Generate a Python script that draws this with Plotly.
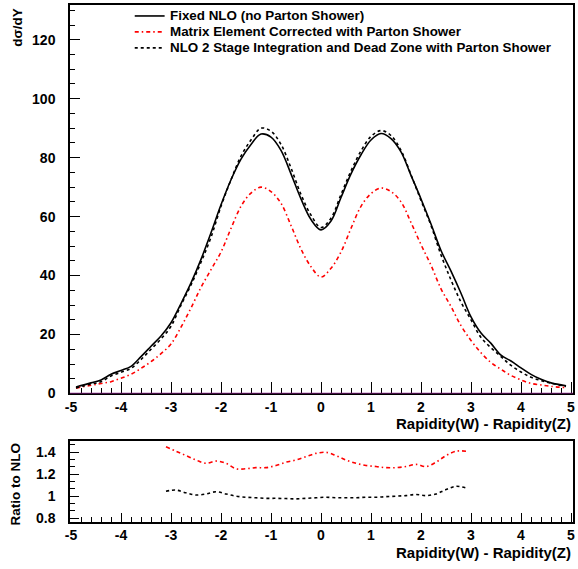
import plotly.graph_objects as go

# ---------------- data ----------------
rap = [-4.9, -4.6, -4.4, -4.2, -4.0, -3.8, -3.6, -3.4, -3.2, -3.0,
       -2.8, -2.6, -2.4, -2.2, -2.0, -1.8, -1.6, -1.4, -1.2, -1.0,
       -0.8, -0.6, -0.4, -0.2, 0.0, 0.2, 0.4, 0.6, 0.8, 1.0,
       1.2, 1.4, 1.6, 1.8, 2.0, 2.2, 2.4, 2.6, 2.8, 3.0,
       3.2, 3.4, 3.6, 3.8, 4.0, 4.2, 4.4, 4.6, 4.9]

fixed_nlo = [2.2, 3.6, 4.6, 6.5, 7.8, 9.2, 12.5, 16.0, 19.5, 24.0,
             30.5, 37.5, 45.5, 54.5, 64.0, 72.5, 79.5, 84.5, 88.0, 87.0,
             82.5, 74.5, 66.0, 59.0, 55.5, 58.5, 66.5, 74.5, 81.0, 86.0,
             88.2, 86.5, 82.0, 74.0, 66.0, 57.5, 48.5, 41.5, 34.0, 26.0,
             20.5, 17.0, 13.0, 11.0, 8.7, 6.5, 4.8, 3.6, 2.6]

me_corrected = [1.8, 2.8, 3.4, 4.0, 5.2, 6.5, 8.5, 10.8, 13.5, 16.8,
                22.5, 29.0, 36.0, 42.0, 48.0, 56.0, 63.5, 68.0, 70.0, 68.5,
                64.5, 57.0, 49.0, 43.0, 39.5, 42.5, 48.0, 56.0, 63.5, 67.8,
                69.7, 68.5, 65.0, 58.0, 50.5, 43.5, 35.5, 29.5, 23.0, 18.0,
                13.8, 10.5, 8.2, 6.1, 4.6, 3.4, 2.9, 2.4, 2.0]

nlo_2stage = [1.9, 3.2, 4.0, 5.9, 7.2, 8.5, 11.5, 15.0, 18.5, 22.8,
              30.0, 36.8, 44.5, 53.0, 63.5, 72.5, 80.5, 86.0, 90.0, 89.0,
              84.5, 76.5, 67.5, 60.5, 56.3, 59.5, 67.5, 75.5, 82.3, 87.2,
              89.2, 87.5, 82.5, 74.2, 65.5, 57.0, 47.0, 38.5, 31.0, 25.0,
              19.0, 15.5, 12.5, 9.5, 7.3, 5.5, 4.4, 3.5, 2.4]

ratio_rap = [-3.1, -2.9, -2.7, -2.5, -2.3, -2.1, -1.9, -1.7, -1.5, -1.3,
             -1.1, -0.9, -0.7, -0.5, -0.3, -0.1, 0.1, 0.3, 0.5, 0.7,
             0.9, 1.1, 1.3, 1.5, 1.7, 1.9, 2.1, 2.3, 2.5, 2.7, 2.9]

ratio_me = [1.45, 1.41, 1.37, 1.33, 1.30, 1.32, 1.30, 1.25, 1.25, 1.26,
            1.26, 1.28, 1.31, 1.33, 1.36, 1.39, 1.40, 1.37, 1.33, 1.30,
            1.28, 1.27, 1.26, 1.26, 1.27, 1.29, 1.27, 1.31, 1.37, 1.41, 1.41]

ratio_2stage = [1.045, 1.055, 1.03, 1.01, 1.02, 1.04, 1.02, 1.00, 0.99, 0.985,
                0.98, 0.98, 0.978, 0.975, 0.98, 0.985, 0.99, 0.985, 0.985, 0.985,
                0.99, 0.99, 0.995, 1.0, 1.005, 1.015, 1.005, 1.02, 1.06, 1.09, 1.075]

x_tick_vals = [-5, -4, -3, -2, -1, 0, 1, 2, 3, 4, 5]
x_tick_text = ["-5", "-4", "-3", "-2", "-1", "0", "1", "2", "3", "4", "5"]
y_tick_vals = [0, 20, 40, 60, 80, 100, 120]
r_tick_vals = [0.8, 1.0, 1.2, 1.4]
r_tick_text = ["0.8", "1", "1.2", "1.4"]

legend_names = ["Fixed NLO (no Parton Shower)",
                "Matrix Element Corrected with Parton Shower",
                "NLO 2 Stage Integration and Dead Zone with Parton Shower"]
x_title = "Rapidity(W) - Rapidity(Z)"

# ---------------- styles ----------------
FONT = "Liberation Sans, Arial, Helvetica, sans-serif"
bold = dict(family=FONT, color="black", weight="bold")
RED_DASH = "4px,3px,1.5px,3px"
BLK_DASH = "3px,3px"
styles = [dict(color="black", width=1.6, dash="solid"),
          dict(color="red", width=1.6, dash=RED_DASH),
          dict(color="black", width=1.6, dash=BLK_DASH)]

fig = go.Figure()
for yv, st, nm in zip([fixed_nlo, me_corrected, nlo_2stage], styles, legend_names):
    fig.add_trace(go.Scatter(x=rap, y=yv, mode="lines", name=nm, showlegend=False,
                             line=dict(shape="spline", **st),
                             xaxis="x", yaxis="y"))
fig.add_trace(go.Scatter(x=ratio_rap, y=ratio_me, mode="lines", showlegend=False,
                         line=dict(shape="spline", **styles[1]),
                         xaxis="x2", yaxis="y2"))
fig.add_trace(go.Scatter(x=ratio_rap, y=ratio_2stage, mode="lines", showlegend=False,
                         line=dict(shape="spline", **styles[2]),
                         xaxis="x2", yaxis="y2"))

xcommon = dict(range=[-5.02, 5.04], tickvals=x_tick_vals, ticktext=x_tick_text,
               ticks="inside", tickcolor="black", tickwidth=1, showline=True,
               linecolor="black", linewidth=1.5, mirror=True, showgrid=False,
               zeroline=False, tickfont=dict(size=14, **bold))

fig.update_layout(
    width=578, height=569,
    margin=dict(l=70, r=3, t=3, b=47),
    paper_bgcolor="white", plot_bgcolor="white",
    showlegend=False,
    xaxis=dict(domain=[0, 1], anchor="y", ticklen=12, ticklabelstandoff=0,
               minor=dict(dtick=0.2, tick0=0, ticklen=6, ticks="inside",
                          tickcolor="black", tickwidth=1), **xcommon),
    yaxis=dict(domain=[0.2486, 1.0], anchor="x", range=[0, 131.8],
               tickvals=y_tick_vals, ticks="inside", ticklen=10,
               tickcolor="black", tickwidth=1,
               minor=dict(dtick=5, tick0=0, ticklen=5, ticks="inside",
                          tickcolor="black", tickwidth=1),
               showline=True, linecolor="black", linewidth=1.5, mirror=True,
               showgrid=False, zeroline=False,
               tickfont=dict(size=14, **bold), ticklabelstandoff=10),
    xaxis2=dict(domain=[0, 1], anchor="y2", ticklen=9, ticklabelstandoff=-1,
                minor=dict(dtick=0.2, tick0=0, ticklen=5, ticks="inside",
                           tickcolor="black", tickwidth=1), **xcommon),
    yaxis2=dict(domain=[0, 0.156], anchor="x2", range=[0.764, 1.5],
                tickvals=r_tick_vals, ticktext=r_tick_text, ticks="inside",
                ticklen=9, tickcolor="black", tickwidth=1,
                minor=dict(dtick=0.2 / 3, tick0=0.8, ticklen=5, ticks="inside",
                           tickcolor="black", tickwidth=1),
                showline=True, linecolor="black", linewidth=1.5, mirror=True,
                showgrid=False, zeroline=False,
                tickfont=dict(size=14, **bold), ticklabelstandoff=10),
)

# purple zero line on the upper panel
fig.add_shape(type="line", xref="x domain", yref="y", x0=0, x1=1, y0=0, y1=0,
              line=dict(color="#8b1c8b", width=1.2))

# hand-made legend (ROOT-style, no box)
leg_rows_y = [0.9788, 0.948, 0.9171]
for yy, st, nm in zip(leg_rows_y, styles, legend_names):
    fig.add_shape(type="line", xref="paper", yref="paper", x0=0.1287, x1=0.1881,
                  y0=yy, y1=yy, line=dict(color=st["color"], width=1.6, dash=st["dash"]))
    fig.add_annotation(text=nm, xref="paper", yref="paper", x=0.195, y=yy,
                       xanchor="left", yanchor="middle", showarrow=False,
                       font=dict(size=13.4, **bold))

# axis titles
fig.add_annotation(text="dσ/dY", xref="paper", yref="paper", x=-0.105, y=0.997,
                   xanchor="center", yanchor="top", textangle=-90, showarrow=False,
                   font=dict(size=13.5, **bold))
fig.add_annotation(text="Ratio to NLO", xref="paper", yref="paper", x=-0.108, y=0.158,
                   xanchor="center", yanchor="top", textangle=-90, showarrow=False,
                   font=dict(size=13.5, **bold))
fig.add_annotation(text=x_title, xref="paper", yref="paper", x=1.0, y=0.1908,
                   xanchor="right", yanchor="middle", showarrow=False,
                   font=dict(size=15, **bold))
fig.add_annotation(text=x_title, xref="paper", yref="paper", x=1.0, y=-0.0597,
                   xanchor="right", yanchor="middle", showarrow=False,
                   font=dict(size=15, **bold))

fig.write_html("out.html", config={"displayModeBar": False},
               post_script="document.body.style.margin='0';")
